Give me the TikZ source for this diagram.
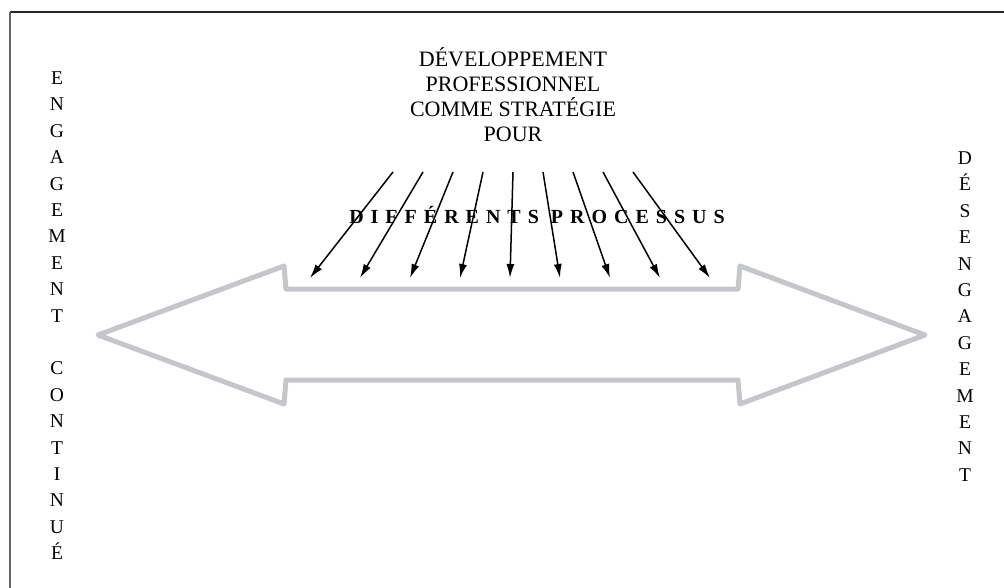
\documentclass[tikz,border=0pt]{standalone}
\usepackage{fontspec}
\setmainfont{Liberation Serif}
\usetikzlibrary{arrows.meta}
\definecolor{arrowgray}{RGB}{196,198,202}
\tikzset{
    letters/.style={align=center,inner sep=0pt,anchor=north,
        font=\fontsize{19.5}{26.4}\selectfont},
    process/.style={-{Latex[length=14pt,width=8pt]},line width=1.5pt},
}

\begin{document}
\begin{tikzpicture}[x=1pt,y=-1pt]
    \useasboundingbox (0,0) rectangle (1004,588);
    \draw[line width=2pt,black!85] (10,12) -- (1004,12);
    \draw[line width=1.8pt,black!60] (10,12) -- (10,588);

    \draw[arrowgray,line width=5pt,line join=round] (98,335) -- (284,266)
        -- (286,289) -- (738,289) -- (740,266) -- (925,335) -- (740,404)
        -- (738,380) -- (286,380) -- (284,404) -- cycle;

    \node[letters] (engage) at (57,71.5)
        {E\\N\\G\\A\\G\\E\\M\\E\\N\\T\\~\\C\\O\\N\\T\\I\\N\\U\\É};
    \node[letters] (desengage) at (965,151.5)
        {D\\É\\S\\E\\N\\G\\A\\G\\E\\M\\E\\N\\T};

    \node[align=center,inner sep=0pt,anchor=north,
        font=\fontsize{22}{25}\selectfont] (titre) at (513,47)
        {DÉVELOPPEMENT\\PROFESSIONNEL\\COMME STRATÉGIE\\POUR};
    \node[inner sep=0pt,anchor=base,
        font=\fontsize{20}{24}\selectfont\bfseries\addfontfeature{LetterSpace=35}]
        (processus) at (537,224) {DIFFÉRENTS PROCESSUS};

    \foreach \i in {0,...,8} {
        \coordinate (haut\i) at (393+30*\i,172);
        \coordinate (bas\i) at (310+50*\i,278);
        \draw[process] (haut\i) -- (bas\i);
    }
\end{tikzpicture}
\end{document}
